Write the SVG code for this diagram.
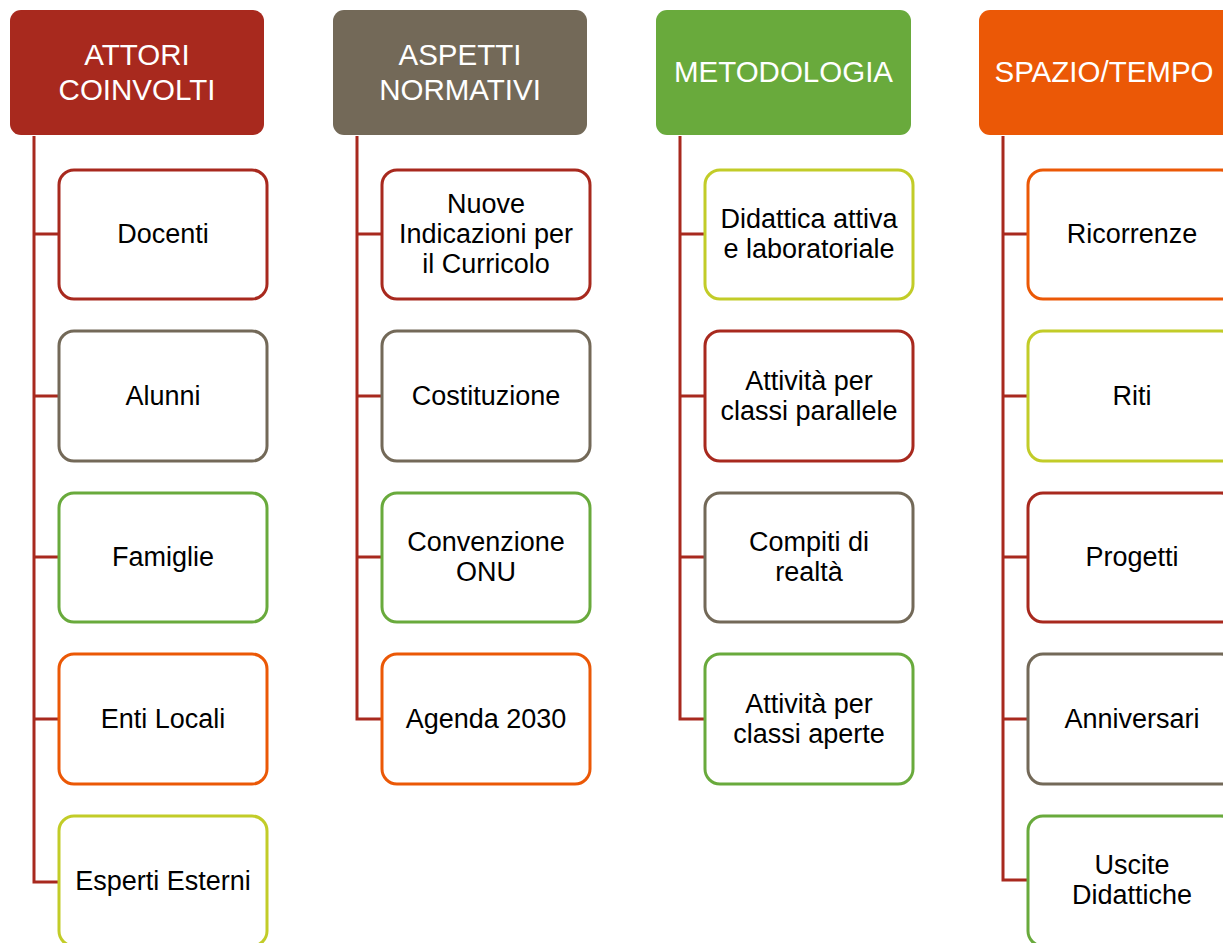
<svg xmlns="http://www.w3.org/2000/svg" width="1223" height="943" viewBox="0 0 1223 943">
<style>
.c{fill:#fff;stroke-width:3}
.ht{font-family:"Liberation Sans",Arial,sans-serif;font-size:29.5px;fill:#fff;text-anchor:middle}
.ct{font-family:"Liberation Sans",Arial,sans-serif;font-size:27px;fill:#000;text-anchor:middle}
.con{fill:none;stroke:#A8291E;stroke-width:3}
.red{stroke:#A8291E}.gray{stroke:#736958}.green{stroke:#69AA3C}.orange{stroke:#EB5806}.lime{stroke:#C2CC28}
</style>
<rect width="1223" height="943" fill="#fff"/>
<g id="connectors">
<path class="con" d="M34 136V882H59M34 234H59M34 396H59M34 557H59M34 719H59"/>
<path class="con" d="M357 136V719H382M357 234H382M357 396H382M357 557H382"/>
<path class="con" d="M680 136V719H705M680 234H705M680 396H705M680 557H705"/>
<path class="con" d="M1003 136V880H1028M1003 234H1028M1003 396H1028M1003 557H1028M1003 719H1028"/>
</g>
<g id="h1"><rect x="10" y="10" width="254" height="125" rx="11" fill="#A8291E"/><text class="ht" x="137" y="65">ATTORI</text><text class="ht" x="137" y="100">COINVOLTI</text></g>
<g id="h2"><rect x="333" y="10" width="254" height="125" rx="11" fill="#736958"/><text class="ht" x="460" y="65">ASPETTI</text><text class="ht" x="460" y="100">NORMATIVI</text></g>
<g id="h3"><rect x="656" y="10" width="255" height="125" rx="11" fill="#69AA3C"/><text class="ht" x="783.5" y="82">METODOLOGIA</text></g>
<g id="h4"><rect x="979" y="10" width="256" height="125" rx="11" fill="#EB5806"/><text class="ht" x="1104" y="82">SPAZIO/TEMPO</text></g>

<g id="c1a"><rect class="c red" x="59" y="170" width="208" height="129" rx="15"/><text class="ct" x="163" y="243">Docenti</text></g>
<g id="c1b"><rect class="c gray" x="59" y="331" width="208" height="130" rx="15"/><text class="ct" x="163" y="405">Alunni</text></g>
<g id="c1c"><rect class="c green" x="59" y="493" width="208" height="129" rx="15"/><text class="ct" x="163" y="566">Famiglie</text></g>
<g id="c1d"><rect class="c orange" x="59" y="654" width="208" height="130" rx="15"/><text class="ct" x="163" y="728">Enti Locali</text></g>
<g id="c1e"><rect class="c lime" x="59" y="816" width="208" height="130" rx="15"/><text class="ct" x="163" y="890">Esperti Esterni</text></g>

<g id="c2a"><rect class="c red" x="382" y="170" width="208" height="129" rx="15"/><text class="ct" x="486" y="213">Nuove</text><text class="ct" x="486" y="243">Indicazioni per</text><text class="ct" x="486" y="273">il Curricolo</text></g>
<g id="c2b"><rect class="c gray" x="382" y="331" width="208" height="130" rx="15"/><text class="ct" x="486" y="405">Costituzione</text></g>
<g id="c2c"><rect class="c green" x="382" y="493" width="208" height="129" rx="15"/><text class="ct" x="486" y="551">Convenzione</text><text class="ct" x="486" y="581">ONU</text></g>
<g id="c2d"><rect class="c orange" x="382" y="654" width="208" height="130" rx="15"/><text class="ct" x="486" y="728">Agenda 2030</text></g>

<g id="c3a"><rect class="c lime" x="705" y="170" width="208" height="129" rx="15"/><text class="ct" x="809" y="228">Didattica attiva</text><text class="ct" x="809" y="258">e laboratoriale</text></g>
<g id="c3b"><rect class="c red" x="705" y="331" width="208" height="130" rx="15"/><text class="ct" x="809" y="390">Attività per</text><text class="ct" x="809" y="420">classi parallele</text></g>
<g id="c3c"><rect class="c gray" x="705" y="493" width="208" height="129" rx="15"/><text class="ct" x="809" y="551">Compiti di</text><text class="ct" x="809" y="581">realtà</text></g>
<g id="c3d"><rect class="c green" x="705" y="654" width="208" height="130" rx="15"/><text class="ct" x="809" y="713">Attività per</text><text class="ct" x="809" y="743">classi aperte</text></g>

<g id="c4a"><rect class="c orange" x="1028" y="170" width="208" height="129" rx="15"/><text class="ct" x="1132" y="243">Ricorrenze</text></g>
<g id="c4b"><rect class="c lime" x="1028" y="331" width="208" height="130" rx="15"/><text class="ct" x="1132" y="405">Riti</text></g>
<g id="c4c"><rect class="c red" x="1028" y="493" width="208" height="129" rx="15"/><text class="ct" x="1132" y="566">Progetti</text></g>
<g id="c4d"><rect class="c gray" x="1028" y="654" width="208" height="130" rx="15"/><text class="ct" x="1132" y="728">Anniversari</text></g>
<g id="c4e"><rect class="c green" x="1028" y="816" width="208" height="130" rx="15"/><text class="ct" x="1132" y="874">Uscite</text><text class="ct" x="1132" y="904">Didattiche</text></g>
</svg>
